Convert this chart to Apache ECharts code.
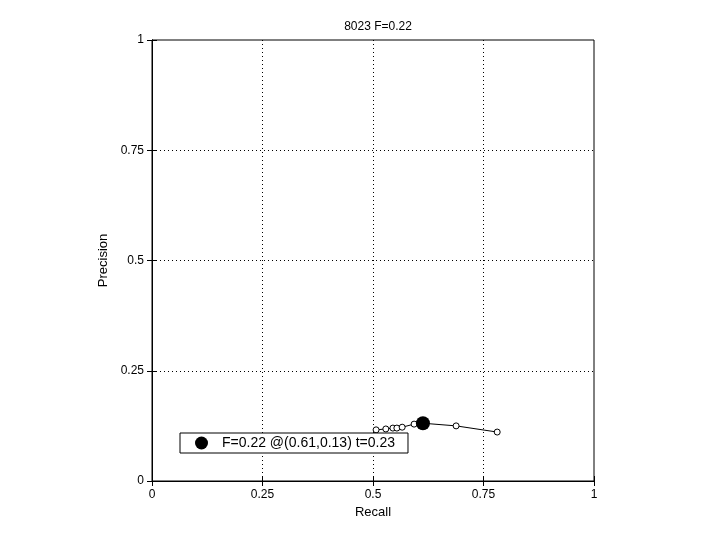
<!DOCTYPE html>
<html><head><meta charset="utf-8">
<script src="https://cdn.jsdelivr.net/npm/echarts@6/dist/echarts.min.js"></script>
<style>html,body{margin:0;padding:0;background:#fff}#c{width:720px;height:540px}</style>
</head><body><div id="c"></div>
<script>
const recall = [0.507, 0.529, 0.545, 0.554, 0.566, 0.593, 0.613, 0.688, 0.781];
const precision = [0.116, 0.118, 0.120, 0.120, 0.122, 0.129, 0.131, 0.125, 0.111];
const bestPoint = [0.613, 0.131];
const bestLabel = 'F=0.22 @(0.61,0.13) t=0.23';
const titleText = '8023 F=0.22';
const ticks = [0, 0.25, 0.5, 0.75, 1];

const chart = echarts.init(document.getElementById('c'));
const font = 'Liberation Sans, Arial, sans-serif';
const fmt = v => (ticks.includes(v) ? String(v) : '');
const baseAxis = {
  min: 0, max: 1, interval: 0.25,
  axisLine: {show: true, lineStyle: {color: '#000', width: 1}},
  axisTick: {show: true, inside: true, length: 5, lineStyle: {color: '#000'}},
  axisLabel: {color: '#000', fontSize: 12, fontFamily: font, formatter: fmt},
  splitLine: {show: true, showMinLine: false, showMaxLine: false, lineStyle: {color: '#000', type: [1, 3], width: 1}},
  nameTextStyle: {color: '#000', fontSize: 13, fontFamily: font}
};
const mirror = {
  min: 0, max: 1, interval: 0.25,
  axisLine: {show: true, lineStyle: {color: '#000', width: 1}},
  axisTick: {show: true, inside: true, length: 5, lineStyle: {color: '#000'}},
  axisLabel: {show: false},
  splitLine: {show: false}
};
chart.setOption({
  animation: false,
  backgroundColor: '#fff',
  title: {text: titleText, left: 373, top: 16, textAlign: 'center',
    textStyle: {fontSize: 12, fontWeight: 'normal', color: '#000', fontFamily: font}},
  grid: {left: 152, right: 126, top: 40, bottom: 59, show: true, borderColor: '#000', borderWidth: 1, backgroundColor: 'transparent'},
  xAxis: [
    Object.assign({}, baseAxis, {type: 'value', position: 'bottom', name: 'Recall', nameLocation: 'middle', nameGap: 24,
      axisLabel: Object.assign({}, baseAxis.axisLabel, {margin: 8})}),
    Object.assign({}, mirror, {type: 'value', position: 'top'})
  ],
  yAxis: [
    Object.assign({}, baseAxis, {type: 'value', position: 'left', name: 'Precision', nameLocation: 'middle', nameGap: 38,
      axisLabel: Object.assign({}, baseAxis.axisLabel, {margin: 8})}),
    Object.assign({}, mirror, {type: 'value', position: 'right'})
  ],
  legend: {
    data: [{name: bestLabel, icon: 'circle', itemStyle: {color: '#000', opacity: 1}}],
    left: 180, top: 433, itemWidth: 13, itemHeight: 13, itemGap: 10,
    padding: [3, 13, 3, 15],
    borderColor: '#000', borderWidth: 1, borderRadius: 0, backgroundColor: '#fff',
    textStyle: {color: '#000', fontSize: 14, fontFamily: font, padding: [0, 0, 0, 9]}
  },
  series: [
    {type: 'line', name: 'curve', data: recall.map((r, i) => [r, precision[i]]),
      symbol: 'circle', symbolSize: 6, showSymbol: true,
      lineStyle: {color: '#000', width: 1},
      itemStyle: {color: '#fff', borderColor: '#000', borderWidth: 1}, z: 3},
    {type: 'scatter', name: bestLabel, data: [bestPoint], symbol: 'circle', symbolSize: 14,
      itemStyle: {color: '#000', opacity: 1}, z: 4}
  ]
});
</script></body></html>
